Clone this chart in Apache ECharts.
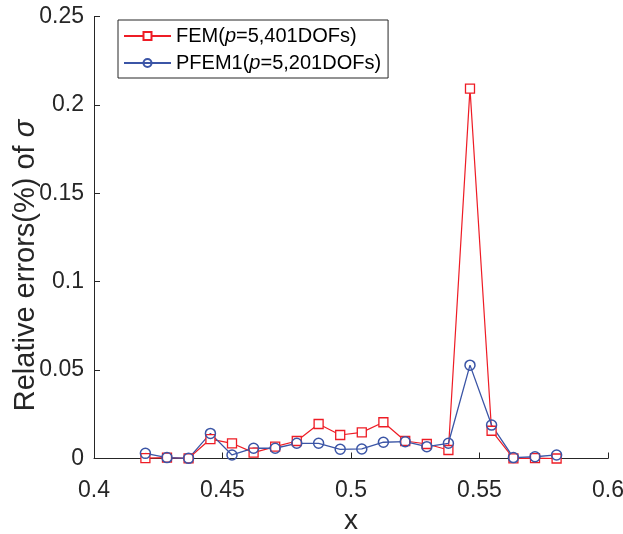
<!DOCTYPE html>
<html><head><meta charset="utf-8">
<script src="https://cdn.jsdelivr.net/npm/echarts@6/dist/echarts.min.js"></script>
<style>html,body{margin:0;padding:0;background:#fff}#c{width:623px;height:534px}</style>
</head><body><div id="c"></div>
<script>
const xValues = [0.42, 0.4284, 0.4368, 0.4453, 0.4537, 0.4621, 0.4705, 0.4789, 0.4874, 0.4958,
                 0.5042, 0.5126, 0.5211, 0.5295, 0.5379, 0.5463, 0.5547, 0.5632, 0.5716, 0.58];
const femErr = [0.0002, 0.0005, 0.0001, 0.0110, 0.0086, 0.0033, 0.0067, 0.0099, 0.0195, 0.0133,
                0.0148, 0.0205, 0.0099, 0.0082, 0.0048, 0.2092, 0.0157, 0.0001, 0.0002, 0.0000];
const pfemErr = [0.0029, 0.0005, 0.0001, 0.0142, 0.0020, 0.0058, 0.0058, 0.0086, 0.0086, 0.0052,
                 0.0054, 0.0092, 0.0095, 0.0067, 0.0086, 0.0528, 0.0189, 0.0005, 0.0010, 0.0020];
const xTickLabels = ['0.4', '0.45', '0.5', '0.55', '0.6'];
const yTickLabels = ['0', '0.05', '0.1', '0.15', '0.2', '0.25'];
const seriesNames = ['FEM', 'PFEM1'];

const font = '"Liberation Sans", Arial, Helvetica, sans-serif';
const axisColor = '#262626';
const chart = echarts.init(document.getElementById('c'), null, {renderer: 'canvas'});
const pair = (xs, ys) => xs.map((x, i) => [x, ys[i]]);
const legendText = {
  FEM: 'FEM({i|p}=5,401DOFs)',
  PFEM1: 'PFEM1({i|p}=5,201DOFs)'
};
chart.setOption({
  animation: false,
  backgroundColor: '#fff',
  grid: {left: 94, right: 15, top: 16.5, bottom: 75.5, containLabel: false, outerBoundsMode: 'none'},
  legend: {
    orient: 'vertical', left: 118, top: 20,
    padding: [5, 7, 4, 5],
    borderColor: '#262626', borderWidth: 1,
    itemWidth: 47, itemHeight: 10, itemGap: 5,
    formatter: n => legendText[n],
    textStyle: {
      fontFamily: font, fontSize: 20, color: '#000', lineHeight: 22,
      rich: {i: {fontFamily: font, fontSize: 20, fontStyle: 'italic', color: '#000', lineHeight: 22}}
    },
    data: seriesNames
  },
  xAxis: {
    type: 'value', min: 0.4, max: 0.6, interval: 0.05,
    name: 'x', nameLocation: 'middle', nameGap: 49, nameMoveOverlap: false,
    nameTextStyle: {fontFamily: font, fontSize: 28, color: axisColor},
    axisLine: {lineStyle: {color: axisColor, width: 1}},
    axisTick: {inside: true, length: 6, lineStyle: {color: axisColor}},
    splitLine: {show: false},
    axisLabel: {
      fontFamily: font, fontSize: 23, color: axisColor, margin: 21,
      formatter: v => xTickLabels[Math.round((v - 0.4) / 0.05)]
    }
  },
  yAxis: {
    type: 'value', min: 0, max: 0.25, interval: 0.05,
    name: 'Relative errors(%) of {i|σ}', nameLocation: 'middle', nameGap: 54, nameMoveOverlap: false,
    nameTextStyle: {
      fontFamily: font, fontSize: 29, color: axisColor, padding: [0, 56, 0, 0],
      rich: {i: {fontFamily: font, fontSize: 29, fontStyle: 'italic', color: axisColor}}
    },
    axisLine: {show: true, lineStyle: {color: axisColor, width: 1}},
    axisTick: {show: true, inside: true, length: 6, lineStyle: {color: axisColor}},
    splitLine: {show: false},
    axisLabel: {
      fontFamily: font, fontSize: 23, color: axisColor, margin: 10,
      formatter: v => yTickLabels[Math.round(v / 0.05)]
    }
  },
  series: [
    {
      name: 'FEM', type: 'line', data: pair(xValues, femErr),
      symbol: 'rect', symbolSize: 9, showAllSymbol: true,
      lineStyle: {color: '#ee1c25', width: 1.2},
      itemStyle: {color: '#fff', borderColor: '#ee1c25', borderWidth: 1.3},
      emphasis: {disabled: true}
    },
    {
      name: 'PFEM1', type: 'line', data: pair(xValues, pfemErr),
      symbol: 'circle', symbolSize: 10, showAllSymbol: true,
      lineStyle: {color: '#3b55a6', width: 1.3},
      itemStyle: {color: 'rgba(255,255,255,0)', borderColor: '#3b55a6', borderWidth: 1.5},
      emphasis: {disabled: true}
    }
  ]
});
</script></body></html>
